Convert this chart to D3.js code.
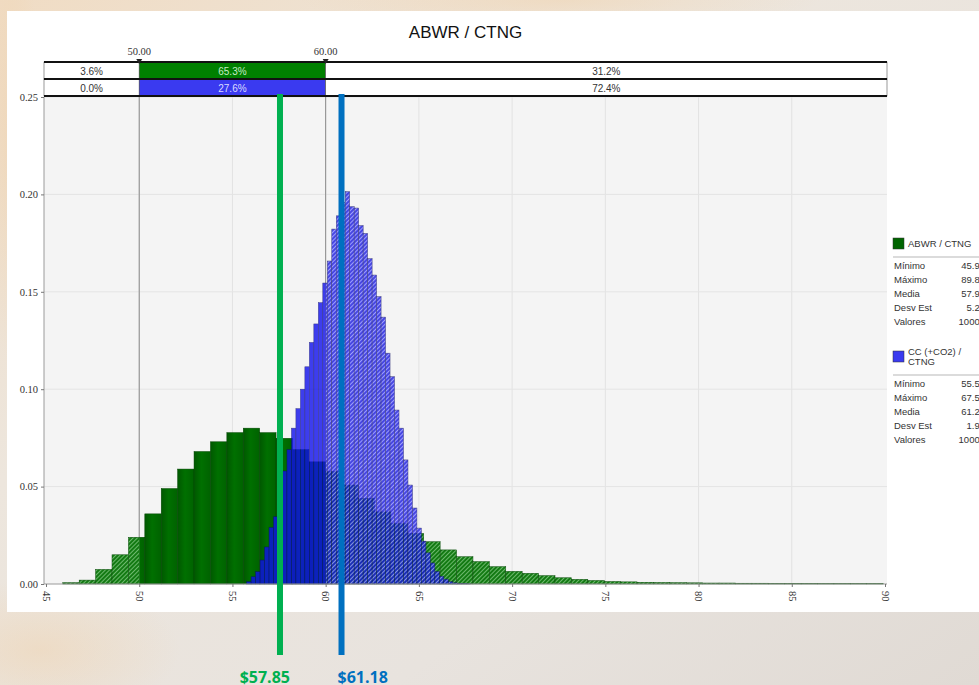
<!DOCTYPE html>
<html>
<head>
<meta charset="utf-8">
<script src="https://cdn.jsdelivr.net/npm/d3@7"></script>
<style>
html, body { margin: 0; padding: 0; overflow: hidden; background: #ebe4da; }
</style>
</head>
<body>
<div id="display"></div>
<script>
const w = 979;
const h = 685;

// ABWR / CTNG histogram (bin start, bin width, relative frequency per bin)
const greenStart = 45.9;
const greenBin = 0.88;
const greenFreq = [
    0.0007, 0.002, 0.0075, 0.015, 0.024, 0.036, 0.049, 0.059, 0.068, 0.073,
    0.0777, 0.080, 0.0777, 0.0748, 0.069, 0.0627, 0.0577, 0.0508, 0.044, 0.037,
    0.031, 0.026, 0.0217, 0.0175, 0.014, 0.0115, 0.0089, 0.0065, 0.0055, 0.0043,
    0.0032, 0.0024, 0.0018, 0.0013, 0.0011, 0.0009, 0.0008, 0.0007, 0.0006, 0.0005,
    0.0005, 0.0004, 0.0004, 0.0003, 0.0003, 0.0003, 0.0002, 0.0002, 0.0002, 0.0002
];

// CC (+CO2) / CTNG histogram
const blueStart = 55.76;
const blueBin = 0.2404;
const blueFreq = [
    0.0012, 0.0037, 0.0063, 0.0123, 0.019, 0.029, 0.0345, 0.046, 0.058, 0.069,
    0.080, 0.090, 0.100, 0.1115, 0.124, 0.1335, 0.1444, 0.1545, 0.1658, 0.1822,
    0.189, 0.196, 0.2014, 0.1937, 0.193, 0.184, 0.180, 0.167, 0.1586, 0.1475,
    0.137, 0.1185, 0.1064, 0.0893, 0.080, 0.0637, 0.0508, 0.039, 0.0287, 0.022,
    0.016, 0.0108, 0.0065, 0.004, 0.0025, 0.0012, 0.0006, 0.0003, 0.0002, 0.0001
];

const xTicks = [45, 50, 55, 60, 65, 70, 75, 80, 85, 90];
const yTicks = [0, 0.05, 0.10, 0.15, 0.20, 0.25];
const cuts = [50, 60];
const cutLabels = ['50.00', '60.00'];
const greenSplit = ['3.6%', '65.3%', '31.2%'];
const blueSplit = ['0.0%', '27.6%', '72.4%'];

const statNames = ['Mínimo', 'Máximo', 'Media', 'Desv Est', 'Valores'];
const greenStats = ['45.90', '89.89', '57.93', '5.25', '10000'];
const blueStats = ['55.57', '67.59', '61.29', '1.94', '10000'];

const annotLabels = ['$57.85', '$61.18'];
const annotAt = [57.55, 60.85];   // where the overlay bars sit on the axis
const annotColors = ['#00b050', '#0070c0'];

const svg = d3.select('#display').append('svg')
    .attr('width', w)
    .attr('height', h)
    .style('display', 'block');

const defs = svg.append('defs');

// blurred painting behind the slide
const bg = defs.append('linearGradient').attr('id', 'bg').attr('x1', 0).attr('x2', 1).attr('y1', 0).attr('y2', 1);
bg.append('stop').attr('offset', 0).attr('stop-color', '#f0dcc4');
bg.append('stop').attr('offset', 0.35).attr('stop-color', '#ede6dd');
bg.append('stop').attr('offset', 0.7).attr('stop-color', '#e8e3de');
bg.append('stop').attr('offset', 1).attr('stop-color', '#e0dad4');
const warm = defs.append('radialGradient').attr('id', 'warm');
warm.append('stop').attr('offset', 0).attr('stop-color', '#f0d0a8').attr('stop-opacity', 0.45);
warm.append('stop').attr('offset', 1).attr('stop-color', '#f0d0a8').attr('stop-opacity', 0);

svg.append('rect').attr('width', w).attr('height', h).attr('fill', 'url(#bg)');
svg.append('ellipse').attr('cx', 40).attr('cy', 650).attr('rx', 140).attr('ry', 70).attr('fill', 'url(#warm)');
svg.append('ellipse').attr('cx', 560).attr('cy', 0).attr('rx', 260).attr('ry', 30).attr('fill', 'url(#warm)');
svg.append('ellipse').attr('cx', 10).attr('cy', 140).attr('rx', 30).attr('ry', 220).attr('fill', 'url(#warm)');

// white slide panel
svg.append('rect').attr('x', 7).attr('y', 11).attr('width', w - 7).attr('height', 601).attr('fill', '#ffffff');

const x = d3.scaleLinear().domain([45, 90]).range([46, 885]);
const y = d3.scaleLinear().domain([0, 0.25]).range([584, 97]);
const left = x.range()[0] - 2;
const right = x.range()[1] + 2;

// fills
const gGrad = defs.append('linearGradient').attr('id', 'gGrad').attr('x1', 0).attr('x2', 1).attr('y1', 0).attr('y2', 0);
gGrad.append('stop').attr('offset', 0).attr('stop-color', '#005800');
gGrad.append('stop').attr('offset', 0.45).attr('stop-color', '#007000');
gGrad.append('stop').attr('offset', 1).attr('stop-color', '#006200');

const hatch = (id, base, stripe) => {
    const p = defs.append('pattern').attr('id', id)
        .attr('patternUnits', 'userSpaceOnUse')
        .attr('width', 3).attr('height', 3)
        .attr('patternTransform', 'rotate(45)');
    p.append('rect').attr('width', 3).attr('height', 3).attr('fill', base);
    p.append('rect').attr('width', 1).attr('height', 3).attr('fill', stripe);
};
hatch('gHatch', '#137a13', '#6cb86c');
hatch('bHatch', '#1c1ce0', '#8a8aff');

defs.append('clipPath').attr('id', 'inside').append('rect')
    .attr('x', x(cuts[0])).attr('y', 0).attr('width', x(cuts[1]) - x(cuts[0])).attr('height', h);
const outClip = defs.append('clipPath').attr('id', 'outside');
outClip.append('rect').attr('x', 0).attr('y', 0).attr('width', x(cuts[0])).attr('height', h);
outClip.append('rect').attr('x', x(cuts[1])).attr('y', 0).attr('width', w).attr('height', h);

// title
svg.append('text')
    .attr('x', (left + right) / 2)
    .attr('y', 38)
    .attr('text-anchor', 'middle')
    .style('font-family', "'Liberation Sans', Arial, sans-serif")
    .style('font-size', '17px')
    .style('fill', '#111')
    .text('ABWR / CTNG');

// plot background + grid
svg.append('rect')
    .attr('x', left).attr('y', y(0.25))
    .attr('width', right - left).attr('height', y(0) - y(0.25))
    .attr('fill', '#f4f4f4');

svg.append('g').selectAll('line').data(xTicks.slice(1, -1)).join('line')
    .attr('x1', (d) => x(d)).attr('x2', (d) => x(d))
    .attr('y1', y(0.25)).attr('y2', y(0))
    .attr('stroke', '#e2e2e2');
svg.append('g').selectAll('line').data(yTicks.slice(1)).join('line')
    .attr('x1', left).attr('x2', right)
    .attr('y1', (d) => y(d)).attr('y2', (d) => y(d))
    .attr('stroke', '#e4e4e4');

// cut lines through the plot
svg.append('g').selectAll('line').data(cuts).join('line')
    .attr('x1', (d) => x(d)).attr('x2', (d) => x(d))
    .attr('y1', 62).attr('y2', y(0))
    .attr('stroke', '#8a8a8a');

const drawBars = (g, data, start, bin, fill, stroke) => {
    g.selectAll('rect').data(data).join('rect')
        .attr('x', (d, i) => x(start + i * bin))
        .attr('width', (d, i) => x(start + (i + 1) * bin) - x(start + i * bin))
        .attr('y', (d) => y(d))
        .attr('height', (d) => y(0) - y(d))
        .attr('fill', fill)
        .attr('stroke', stroke)
        .attr('stroke-width', 0.5);
};

const greenG = svg.append('g');
drawBars(greenG.append('g').attr('clip-path', 'url(#outside)'), greenFreq, greenStart, greenBin, 'url(#gHatch)', '#0b4a0b');
drawBars(greenG.append('g').attr('clip-path', 'url(#inside)'), greenFreq, greenStart, greenBin, 'url(#gGrad)', '#004400');

const blueG = svg.append('g').attr('opacity', 0.8);
drawBars(blueG.append('g').attr('clip-path', 'url(#outside)'), blueFreq, blueStart, blueBin, 'url(#bHatch)', '#10105a');
drawBars(blueG.append('g').attr('clip-path', 'url(#inside)'), blueFreq, blueStart, blueBin, '#1010ec', '#0a0a70');

// axes
const yAxis = svg.append('g')
    .attr('transform', `translate(${left},0)`)
    .call(d3.axisLeft(y).tickValues(yTicks).tickFormat(d3.format('.2f')).tickSize(3));
const xAxis = svg.append('g')
    .attr('transform', `translate(0,${y(0)})`)
    .call(d3.axisBottom(x).tickValues(xTicks).tickFormat(d3.format('d')).tickSize(3));
[xAxis, yAxis].forEach((a) => {
    a.select('.domain').attr('stroke', '#9a9a9a');
    a.selectAll('.tick line').attr('stroke', '#777');
    a.selectAll('text')
        .style('font-family', "'Liberation Serif', 'Times New Roman', serif")
        .style('font-size', '10.5px')
        .style('fill', '#333');
});
xAxis.select('.domain').attr('d', `M${left},0H${right}`);
yAxis.select('.domain').attr('d', `M0,${y(0.25)}V${y(0)}`);
xAxis.selectAll('text')
    .attr('y', 0)
    .attr('x', 7)
    .attr('dy', '.35em')
    .attr('transform', 'rotate(90)')
    .style('text-anchor', 'start');

// split table above the plot
const cols = [left, x(cuts[0]), x(cuts[1]), right];
const rows = [
    { top: 62, vals: greenSplit, fill: '#008000', txt: '#c6ecc6' },
    { top: 79, vals: blueSplit, fill: '#3a3af0', txt: '#dcdcff' }
];
const rowH = 17;
const table = svg.append('g');
rows.forEach((r) => {
    r.vals.forEach((v, j) => {
        table.append('rect')
            .attr('x', cols[j]).attr('y', r.top)
            .attr('width', cols[j + 1] - cols[j]).attr('height', rowH)
            .attr('fill', j === 1 ? r.fill : '#ffffff')
            .attr('stroke', '#555').attr('stroke-width', 0.6);
        table.append('text')
            .attr('x', (cols[j] + cols[j + 1]) / 2)
            .attr('y', r.top + rowH / 2 + 4)
            .attr('text-anchor', 'middle')
            .style('font-family', "'Liberation Sans', Arial, sans-serif")
            .style('font-size', '10px')
            .style('fill', j === 1 ? r.txt : '#333')
            .text(v);
    });
});
[62, 79, 96].forEach((yy) => {
    table.append('line').attr('x1', left).attr('x2', right)
        .attr('y1', yy).attr('y2', yy)
        .attr('stroke', '#111').attr('stroke-width', 1.8);
});

// cut markers
const marks = svg.append('g').selectAll('g').data(cuts).join('g')
    .attr('transform', (d) => `translate(${x(d)},0)`);
marks.append('path').attr('d', 'M-3,59L3,59L0,64Z').attr('fill', '#222');
marks.append('text')
    .attr('y', 55)
    .attr('text-anchor', 'middle')
    .style('font-family', "'Liberation Serif', 'Times New Roman', serif")
    .style('font-size', '10.5px')
    .style('fill', '#333')
    .text((d, i) => cutLabels[i]);

// legend (runs off the right edge like the slide)
const legend = svg.append('g').style('font-family', "'Liberation Sans', Arial, sans-serif").style('font-size', '9.5px').style('fill', '#333');
const legendBlocks = [
    { top: 238, name: ['ABWR / CTNG'], color: '#006400', stats: greenStats },
    { top: 346, name: ['CC (+CO2) /', 'CTNG'], color: '#3a3af0', stats: blueStats }
];
legendBlocks.forEach((b) => {
    legend.append('rect').attr('x', 893).attr('y', b.top + (b.name.length - 1) * 5)
        .attr('width', 11).attr('height', 11)
        .attr('fill', b.color).attr('stroke', '#333').attr('stroke-width', 0.5);
    b.name.forEach((n, k) => {
        legend.append('text').attr('x', 908).attr('y', b.top + 9 + k * 10).text(n);
    });
    const lineY = b.top + 19 + (b.name.length - 1) * 10;
    legend.append('line').attr('x1', 893).attr('x2', w).attr('y1', lineY).attr('y2', lineY)
        .attr('stroke', '#999').attr('stroke-width', 0.7);
    statNames.forEach((s, k) => {
        legend.append('text').attr('x', 894).attr('y', lineY + 12 + k * 14).text(s);
        legend.append('text').attr('x', 985).attr('y', lineY + 12 + k * 14)
            .attr('text-anchor', 'end').text(b.stats[k]);
    });
});

// overlay callouts
const callouts = svg.append('g').selectAll('g').data(annotLabels).join('g')
    .attr('transform', (d, i) => `translate(${x(annotAt[i])},0)`);
callouts.append('rect')
    .attr('x', -3).attr('y', 94)
    .attr('width', 6).attr('height', 561)
    .attr('fill', (d, i) => annotColors[i]);
callouts.append('text')
    .attr('x', (d, i) => i === 0 ? 10 : -4)
    .attr('y', 683)
    .attr('text-anchor', (d, i) => i === 0 ? 'end' : 'start')
    .style('font-family', "'Open Sans', 'Liberation Sans', sans-serif")
    .style('font-weight', 'bold')
    .style('font-size', '16px')
    .style('fill', (d, i) => annotColors[i])
    .text((d) => d);
</script>
</body>
</html>
